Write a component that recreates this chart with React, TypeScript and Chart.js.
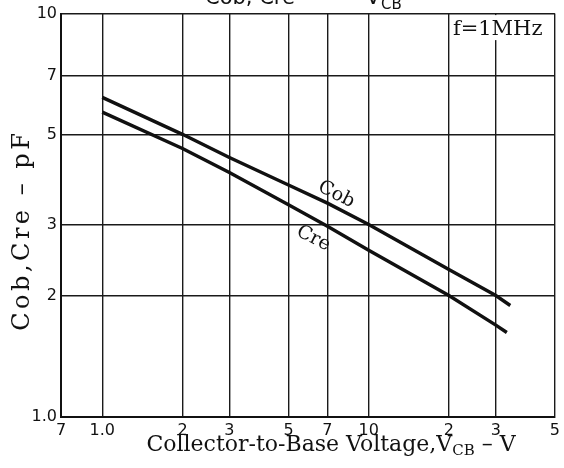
import React, { useEffect, useRef } from "react";
import { Chart, registerables } from "chart.js";

Chart.register(...registerables);

// Collector-to-base voltage (V) and capacitances (pF)
const cobVoltage = [1, 2, 3, 5, 7, 10, 20, 30, 34];
const cobValues = [6.2, 5.02, 4.4, 3.76, 3.39, 3.0, 2.32, 2.0, 1.89];
const creVoltage = [1, 2, 3, 5, 7, 10, 20, 30, 33];
const creValues = [5.7, 4.63, 4.04, 3.36, 2.97, 2.59, 2.0, 1.69, 1.62];

const xTicks = [0.7, 1, 2, 3, 5, 7, 10, 20, 30, 50];
const xTickLabels = ["7", "1.0", "2", "3", "5", "7", "10", "2", "3", "5"];
const yTicks = [1, 2, 3, 5, 7, 10];
const yTickLabels = ["1.0", "2", "3", "5", "7", "10"];

const cobLabelAt = { x: 7.56, y: 3.56 };
const creLabelAt = { x: 6.2, y: 2.77 };

const SERIF = "'DejaVu Serif', serif";
const SANS = "'DejaVu Sans', 'Liberation Sans', sans-serif";

const textPlugin = {
  id: "annotations",
  afterDraw(chart: any) {
    const ctx = chart.ctx as CanvasRenderingContext2D;
    const xs = chart.scales.x;
    const ys = chart.scales.y;
    const area = chart.chartArea;
    ctx.save();

    // f=1MHz box (left edge is the 20 V grid line)
    const bx = xs.getPixelForValue(20);
    ctx.fillStyle = "#fff";
    ctx.fillRect(bx + 1.5, area.top + 1.5, area.right - bx - 3, 25);
    ctx.fillStyle = "#111";
    ctx.font = "21px " + SERIF;
    ctx.textBaseline = "alphabetic";
    ctx.textAlign = "left";
    ctx.fillText("f=1MHz", bx + 4, area.top + 21);

    // curve labels
    const drawRot = (t: string, px: number, py: number, ang: number) => {
      ctx.save();
      ctx.translate(px, py);
      ctx.rotate(ang);
      ctx.font = "19px " + SERIF;
      ctx.textAlign = "center";
      ctx.textBaseline = "middle";
      ctx.fillText(t, 0, 0);
      ctx.restore();
    };
    drawRot("Cob", xs.getPixelForValue(cobLabelAt.x), ys.getPixelForValue(cobLabelAt.y), 0.47);
    drawRot("Cre", xs.getPixelForValue(creLabelAt.x), ys.getPixelForValue(creLabelAt.y), 0.47);

    // top title (cut off by the page edge)
    ctx.font = "21px " + SANS;
    ctx.textAlign = "left";
    ctx.textBaseline = "alphabetic";
    ctx.fillText("Cob, Cre", 205, 4);
    ctx.fillText("—", 322, 4);
    ctx.fillText("V", 366, 4);
    ctx.font = "15px " + SANS;
    ctx.fillText("CB", 381, 9);

    // x axis title with subscript
    const mainFont = "22px " + SERIF;
    const subFont = "15px " + SERIF;
    const p1 = "Collector-to-Base Voltage,V";
    const p2 = "CB";
    const p3 = " \u2013 V";
    ctx.font = mainFont;
    const w1 = ctx.measureText(p1).width;
    const w3 = ctx.measureText(p3).width;
    ctx.font = subFont;
    const w2 = ctx.measureText(p2).width;
    const total = w1 + w2 + w3;
    const x0 = 331 - total / 2;
    const by = 451;
    ctx.font = mainFont;
    ctx.fillText(p1, x0, by);
    ctx.font = subFont;
    ctx.fillText(p2, x0 + w1, by + 4);
    ctx.font = mainFont;
    ctx.fillText(p3, x0 + w1 + w2, by);

    // y axis title
    ctx.save();
    ctx.translate(23, 232);
    ctx.rotate(-Math.PI / 2);
    ctx.font = "24px " + SERIF;
    const yt = "Cob,Cre \u2013 pF";
    const natural = ctx.measureText(yt).width;
    const target = 198;
    const sp = Math.max(0, (target - natural) / (yt.length - 1));
    (ctx as any).letterSpacing = sp.toFixed(1) + "px";
    const w = ctx.measureText(yt).width;
    ctx.textAlign = "left";
    ctx.textBaseline = "middle";
    ctx.fillText(yt, -w / 2 + sp / 2, 0);
    ctx.restore();

    ctx.restore();
  },
};

export default function App() {
  const ref = useRef<HTMLCanvasElement | null>(null);
  useEffect(() => {
    document.body.style.margin = "0";
    const canvas = ref.current!;
    const chart = new Chart(canvas, {
      type: "line",
      data: {
        datasets: [
          {
            label: "Cob",
            data: cobVoltage.map((v, i) => ({ x: v, y: cobValues[i] })),
            borderColor: "#111",
            borderWidth: 3.4,
            pointRadius: 0,
            tension: 0,
          },
          {
            label: "Cre",
            data: creVoltage.map((v, i) => ({ x: v, y: creValues[i] })),
            borderColor: "#111",
            borderWidth: 3.4,
            pointRadius: 0,
            tension: 0,
          },
        ],
      },
      options: {
        responsive: false,
        animation: false,
        events: [],
        layout: { padding: { left: 0, right: 9, top: 13, bottom: 0 } },
        plugins: { legend: { display: false }, tooltip: { enabled: false }, title: { display: false } },
        scales: {
          x: {
            type: "logarithmic",
            min: 0.7,
            max: 50,
            afterBuildTicks: (s: any) => {
              s.ticks = xTicks.map((v) => ({ value: v }));
            },
            afterFit: (s: any) => {
              s.height = 51;
            },
            ticks: {
              autoSkip: false,
              maxRotation: 0,
              padding: 4,
              color: "#111",
              font: { family: SANS, size: 16 },
              callback: (_v: any, i: number) => xTickLabels[i],
            },
            grid: { color: "#1a1a1a", lineWidth: 1.4, drawTicks: false },
            border: { display: true, color: "#111", width: 2 },
          },
          y: {
            type: "logarithmic",
            min: 1,
            max: 10,
            afterBuildTicks: (s: any) => {
              s.ticks = yTicks.map((v) => ({ value: v }));
            },
            afterFit: (s: any) => {
              s.width = 61;
            },
            ticks: {
              autoSkip: false,
              padding: 4,
              color: "#111",
              font: { family: SANS, size: 16 },
              callback: (_v: any, i: number) => yTickLabels[i],
            },
            grid: { color: "#1a1a1a", lineWidth: 1.4, drawTicks: false },
            border: { display: true, color: "#111", width: 2 },
          },
        },
      },
      plugins: [textPlugin],
    } as any);
    return () => chart.destroy();
  }, []);
  return (
    <div style={{ width: 564, height: 468, background: "#fff" }}>
      <canvas ref={ref} width={564} height={468} style={{ display: "block" }} />
    </div>
  );
}
